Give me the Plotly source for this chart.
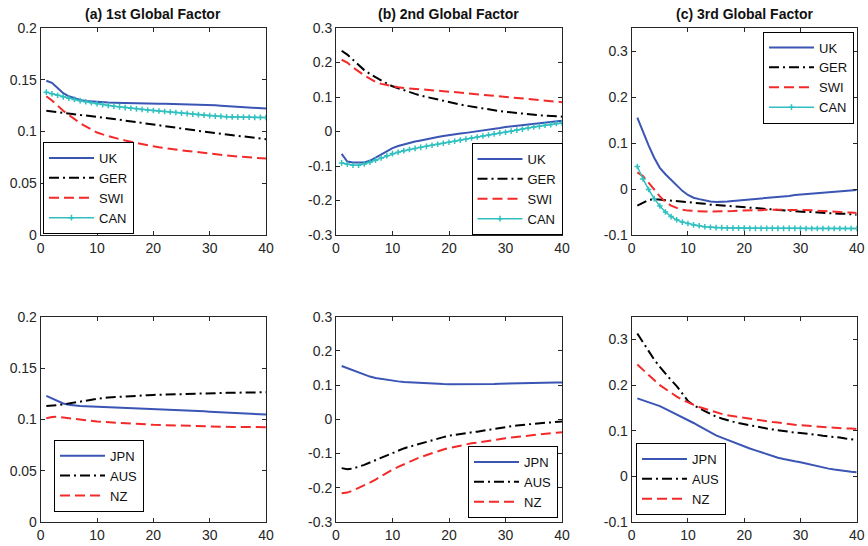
import plotly.graph_objects as go

# ---------------- data ----------------
horizon = list(range(1, 41))

titles = ["(a) 1st Global Factor", "(b) 2nd Global Factor", "(c) 3rd Global Factor"]
top_names = ["UK", "GER", "SWI", "CAN"]
bottom_names = ["JPN", "AUS", "NZ"]

# Panel (a) top
a_uk = [0.149, 0.147, 0.142, 0.137, 0.134, 0.132, 0.1305, 0.1295, 0.129, 0.1285,
        0.128, 0.128, 0.1278, 0.1276, 0.1275, 0.1274, 0.1273, 0.1272, 0.1271, 0.127,
        0.1269, 0.1268, 0.1267, 0.1266, 0.1265, 0.1264, 0.1262, 0.126, 0.1258, 0.1256,
        0.1253, 0.125, 0.1247, 0.1244, 0.1241, 0.1238, 0.1234, 0.123, 0.1226, 0.1222]
a_ger = [0.1200, 0.1194, 0.1188, 0.1182, 0.1176, 0.1170, 0.1164, 0.1158, 0.1152, 0.1145,
         0.1137, 0.1129, 0.1121, 0.1113, 0.1105, 0.1097, 0.1089, 0.1081, 0.1073, 0.1065,
         0.1057, 0.1050, 0.1043, 0.1035, 0.1028, 0.1020, 0.1013, 0.1005, 0.0998, 0.0990,
         0.0984, 0.0978, 0.0971, 0.0965, 0.0958, 0.0952, 0.0945, 0.0939, 0.0932, 0.0926]
a_swi = [0.134, 0.130, 0.125, 0.120, 0.116, 0.112, 0.108, 0.105, 0.102, 0.0990,
         0.0972, 0.0955, 0.0940, 0.0926, 0.0913, 0.0901, 0.0889, 0.0878, 0.0867, 0.0857,
         0.0848, 0.0839, 0.0831, 0.0824, 0.0818, 0.0812, 0.0805, 0.0798, 0.0791, 0.0785,
         0.0779, 0.0773, 0.0768, 0.0763, 0.0758, 0.0754, 0.0750, 0.0746, 0.0742, 0.0738]
a_can = [0.138, 0.1365, 0.135, 0.1335, 0.1322, 0.1310, 0.1298, 0.1288, 0.1278, 0.1268,
         0.1260, 0.1252, 0.1245, 0.1238, 0.1231, 0.1225, 0.1219, 0.1213, 0.1208, 0.1203,
         0.1198, 0.1193, 0.1188, 0.1183, 0.1178, 0.1173, 0.1168, 0.1163, 0.1158, 0.1153,
         0.1149, 0.1146, 0.1143, 0.1141, 0.1139, 0.1138, 0.1137, 0.1136, 0.1136, 0.1135]

# Panel (b) top
b_uk = [-0.065, -0.087, -0.090, -0.090, -0.090, -0.085, -0.076, -0.067, -0.057, -0.048,
        -0.042, -0.037, -0.033, -0.029, -0.026, -0.022, -0.019, -0.016, -0.013, -0.010,
        -0.008, -0.006, -0.004, -0.002, 0.000, 0.002, 0.004, 0.007, 0.010, 0.013,
        0.015, 0.017, 0.019, 0.021, 0.023, 0.025, 0.027, 0.028, 0.030, 0.031]
b_ger = [0.234, 0.223, 0.208, 0.192, 0.178, 0.167, 0.157, 0.147, 0.139, 0.131,
         0.125, 0.119, 0.114, 0.109, 0.104, 0.100, 0.096, 0.092, 0.088, 0.084,
         0.081, 0.078, 0.075, 0.072, 0.069, 0.066, 0.064, 0.061, 0.059, 0.057,
         0.055, 0.053, 0.051, 0.050, 0.048, 0.047, 0.046, 0.045, 0.044, 0.043]
b_swi = [0.208, 0.200, 0.186, 0.174, 0.163, 0.153, 0.144, 0.138, 0.134, 0.131,
         0.128, 0.126, 0.124, 0.123, 0.122, 0.121, 0.119, 0.118, 0.117, 0.1155,
         0.114, 0.1125, 0.111, 0.1095, 0.108, 0.1065, 0.105, 0.1035, 0.102, 0.100,
         0.0985, 0.097, 0.0955, 0.094, 0.0925, 0.091, 0.089, 0.088, 0.086, 0.085]
b_can = [-0.091, -0.095, -0.098, -0.098, -0.094, -0.089, -0.083, -0.077, -0.070, -0.064,
         -0.060, -0.056, -0.052, -0.049, -0.046, -0.043, -0.040, -0.037, -0.034, -0.031,
         -0.028, -0.025, -0.022, -0.019, -0.016, -0.013, -0.010, -0.007, -0.004, -0.002,
         0.001, 0.004, 0.007, 0.010, 0.013, 0.015, 0.018, 0.020, 0.023, 0.025]

# Panel (c) top
c_uk = [0.155, 0.124, 0.095, 0.068, 0.046, 0.032, 0.020, 0.008, -0.004, -0.013,
        -0.019, -0.022, -0.025, -0.027, -0.028, -0.028, -0.027, -0.026, -0.025, -0.024,
        -0.023, -0.022, -0.021, -0.019, -0.018, -0.017, -0.016, -0.015, -0.013, -0.012,
        -0.011, -0.010, -0.009, -0.008, -0.007, -0.006, -0.005, -0.004, -0.003, -0.002]
c_ger = [-0.036, -0.030, -0.024, -0.022, -0.023, -0.024, -0.025, -0.026, -0.027, -0.028,
         -0.029, -0.031, -0.032, -0.034, -0.035, -0.036, -0.037, -0.038, -0.039, -0.040,
         -0.041, -0.042, -0.043, -0.044, -0.044, -0.045, -0.046, -0.047, -0.048, -0.049,
         -0.050, -0.050, -0.051, -0.052, -0.052, -0.053, -0.054, -0.054, -0.055, -0.056]
c_swi = [0.036, 0.028, 0.014, -0.002, -0.016, -0.028, -0.036, -0.041, -0.045, -0.047,
         -0.048, -0.049, -0.049, -0.049, -0.049, -0.049, -0.048, -0.048, -0.047, -0.047,
         -0.046, -0.046, -0.046, -0.045, -0.045, -0.045, -0.045, -0.045, -0.045, -0.045,
         -0.046, -0.046, -0.047, -0.048, -0.048, -0.049, -0.050, -0.051, -0.051, -0.052]
c_can = [0.049, 0.022, -0.001, -0.021, -0.037, -0.050, -0.060, -0.067, -0.072, -0.075,
         -0.078, -0.080, -0.082, -0.083, -0.084, -0.084, -0.085, -0.085, -0.085, -0.085,
         -0.0855, -0.0855, -0.0855, -0.0855, -0.0855, -0.0855, -0.0855, -0.0855, -0.0855, -0.0855,
         -0.086, -0.086, -0.086, -0.086, -0.086, -0.086, -0.086, -0.086, -0.086, -0.086]

# Panel (a) bottom
d_jpn = [0.1228, 0.1205, 0.1175, 0.1155, 0.1142, 0.1134, 0.1130, 0.1127, 0.1125, 0.1123,
         0.1121, 0.1119, 0.1117, 0.1115, 0.1113, 0.1111, 0.1109, 0.1106, 0.1103, 0.1100,
         0.1098, 0.1095, 0.1093, 0.1090, 0.1088, 0.1085, 0.1083, 0.1080, 0.1078, 0.1075,
         0.1072, 0.1069, 0.1066, 0.1063, 0.1060, 0.1058, 0.1055, 0.1052, 0.1050, 0.1047]
d_aus = [0.1131, 0.1133, 0.1138, 0.1146, 0.1155, 0.1165, 0.1175, 0.1185, 0.1194, 0.1202,
         0.1208, 0.1213, 0.1217, 0.1220, 0.1223, 0.1226, 0.1229, 0.1232, 0.1235, 0.1238,
         0.1240, 0.1242, 0.1244, 0.1246, 0.1248, 0.1250, 0.1251, 0.1252, 0.1254, 0.1255,
         0.1256, 0.1257, 0.1258, 0.1259, 0.1260, 0.1261, 0.1262, 0.1263, 0.1263, 0.1264]
d_nz = [0.1010, 0.1022, 0.1025, 0.1018, 0.1008, 0.1000, 0.0994, 0.0988, 0.0983, 0.0979,
        0.0975, 0.0971, 0.0968, 0.0965, 0.0962, 0.0959, 0.0956, 0.0953, 0.0950, 0.0947,
        0.0945, 0.0943, 0.0941, 0.0939, 0.0937, 0.0936, 0.0934, 0.0933, 0.0931, 0.0930,
        0.0929, 0.0928, 0.0927, 0.0926, 0.0926, 0.0925, 0.0925, 0.0924, 0.0924, 0.0924]

# Panel (b) bottom
e_jpn = [0.156, 0.150, 0.143, 0.136, 0.130, 0.125, 0.121, 0.118, 0.115, 0.113,
         0.111, 0.109, 0.108, 0.106, 0.1055, 0.105, 0.104, 0.1035, 0.103, 0.1026,
         0.1025, 0.1024, 0.1024, 0.1025, 0.1026, 0.1028, 0.1030, 0.1035, 0.1040, 0.1046,
         0.1050, 0.1054, 0.1058, 0.1062, 0.1066, 0.1070, 0.1073, 0.1076, 0.1078, 0.1080]
e_aus = [-0.1425, -0.1455, -0.144, -0.139, -0.133, -0.126, -0.119, -0.111, -0.104, -0.097,
         -0.091, -0.085, -0.080, -0.075, -0.070, -0.065, -0.060, -0.056, -0.052, -0.048,
         -0.045, -0.042, -0.040, -0.038, -0.036, -0.033, -0.030, -0.027, -0.024, -0.022,
         -0.020, -0.018, -0.016, -0.015, -0.013, -0.012, -0.010, -0.009, -0.007, -0.006]
e_nz = [-0.216, -0.214, -0.208, -0.201, -0.194, -0.185, -0.176, -0.166, -0.156, -0.147,
        -0.139, -0.131, -0.124, -0.117, -0.110, -0.104, -0.098, -0.093, -0.088, -0.084,
        -0.080, -0.077, -0.073, -0.070, -0.068, -0.065, -0.062, -0.060, -0.057, -0.055,
        -0.053, -0.051, -0.049, -0.047, -0.045, -0.043, -0.042, -0.040, -0.039, -0.0375]

# Panel (c) bottom
f_jpn = [0.171, 0.167, 0.163, 0.158, 0.154, 0.148, 0.142, 0.136, 0.130, 0.124,
         0.117, 0.110, 0.103, 0.096, 0.090, 0.085, 0.080, 0.075, 0.070, 0.066,
         0.061, 0.057, 0.053, 0.048, 0.044, 0.041, 0.038, 0.035, 0.033, 0.031,
         0.028, 0.025, 0.022, 0.019, 0.017, 0.015, 0.013, 0.011, 0.010, 0.009]
f_aus = [0.313, 0.293, 0.274, 0.256, 0.240, 0.225, 0.211, 0.198, 0.182, 0.165,
         0.156, 0.149, 0.143, 0.137, 0.131, 0.127, 0.123, 0.120, 0.117, 0.114,
         0.112, 0.110, 0.107, 0.105, 0.103, 0.101, 0.099, 0.098, 0.096, 0.095,
         0.094, 0.092, 0.091, 0.089, 0.088, 0.086, 0.085, 0.083, 0.082, 0.080]
f_nz = [0.245, 0.233, 0.222, 0.211, 0.200, 0.191, 0.183, 0.175, 0.168, 0.162,
        0.157, 0.152, 0.148, 0.144, 0.140, 0.137, 0.134, 0.132, 0.130, 0.1275,
        0.126, 0.124, 0.122, 0.120, 0.119, 0.118, 0.116, 0.115, 0.113, 0.112,
        0.111, 0.110, 0.109, 0.108, 0.107, 0.106, 0.106, 0.105, 0.105, 0.104]

x_ticks = [0, 10, 20, 30, 40]
x_ticktext = ["0", "10", "20", "30", "40"]
ya_ticks = [0, 0.05, 0.1, 0.15, 0.2]
ya_text = ["0", "0.05", "0.1", "0.15", "0.2"]
yb_ticks = [-0.3, -0.2, -0.1, 0, 0.1, 0.2, 0.3]
yb_text = ["-0.3", "-0.2", "-0.1", "0", "0.1", "0.2", "0.3"]
yc_ticks = [-0.1, 0, 0.1, 0.2, 0.3]
yc_text = ["-0.1", "0", "0.1", "0.2", "0.3"]

# ---------------- styling ----------------
BLUE = "#3a55b4"
RED = "#f42a2a"
CYAN = "#30c0c0"
BLACK = "#000000"
FONT = "Liberation Sans, Arial, sans-serif"
AXCOL = "#262626"

style = {
    "UK": dict(line=dict(color=BLUE, width=2), mode="lines"),
    "JPN": dict(line=dict(color=BLUE, width=2), mode="lines"),
    "GER": dict(line=dict(color=BLACK, width=2, dash="10px,4px,2px,4px"), mode="lines"),
    "AUS": dict(line=dict(color=BLACK, width=2, dash="10px,4px,2px,4px"), mode="lines"),
    "SWI": dict(line=dict(color=RED, width=2, dash="10px,5px"), mode="lines"),
    "NZ": dict(line=dict(color=RED, width=2, dash="10px,5px"), mode="lines"),
    "CAN": dict(line=dict(color=CYAN, width=1.5), mode="lines+markers",
                marker=dict(symbol="cross-thin-open", size=4, color=CYAN,
                            line=dict(color=CYAN, width=1.5))),
}

panels = [
    (1, top_names, [a_uk, a_ger, a_swi, a_can], [0, 0.2], ya_ticks, ya_text, "legend"),
    (2, top_names, [b_uk, b_ger, b_swi, b_can], [-0.3, 0.3], yb_ticks, yb_text, "legend2"),
    (3, top_names, [c_uk, c_ger, c_swi, c_can], [-0.1, 0.35], yc_ticks, yc_text, "legend3"),
    (4, bottom_names, [d_jpn, d_aus, d_nz], [0, 0.2], ya_ticks, ya_text, "legend4"),
    (5, bottom_names, [e_jpn, e_aus, e_nz], [-0.3, 0.3], yb_ticks, yb_text, "legend5"),
    (6, bottom_names, [f_jpn, f_aus, f_nz], [-0.1, 0.35], yc_ticks, yc_text, "legend6"),
]

W, H = 868, 546


def fx(p):
    return p / W


def fy(p):
    return 1 - p / H


col_px = [(40.7, 266.0), (336.0, 562.0), (631.7, 856.7)]
row_px = [(28.0, 235.0), (316.7, 522.0)]

fig = go.Figure()
layout = dict(
    width=W, height=H,
    margin=dict(l=0, r=0, t=0, b=0, autoexpand=False),
    paper_bgcolor="white", plot_bgcolor="white",
    font=dict(family=FONT, size=14, color=AXCOL),
    showlegend=True,
)

legend_pos = {
    "legend": dict(x=fx(43), y=fy(234), xanchor="left", yanchor="bottom"),
    "legend2": dict(x=fx(562.5), y=fy(235), xanchor="right", yanchor="bottom"),
    "legend3": dict(x=fx(854), y=fy(31.5), xanchor="right", yanchor="top"),
    "legend4": dict(x=fx(54), y=fy(511.7), xanchor="left", yanchor="bottom"),
    "legend5": dict(x=fx(558), y=fy(518), xanchor="right", yanchor="bottom"),
    "legend6": dict(x=fx(636), y=fy(515), xanchor="left", yanchor="bottom"),
}

for idx, names, series, yr, yt, ytt, leg in panels:
    r = 0 if idx <= 3 else 1
    c = (idx - 1) % 3
    xs = "" if idx == 1 else str(idx)
    for name, vals in zip(names, series):
        fig.add_trace(go.Scatter(x=horizon, y=vals, name=name, xaxis="x" + xs,
                                 yaxis="y" + xs, legend=leg, **style[name]))
    x0, x1 = col_px[c]
    y0, y1 = row_px[r]
    common = dict(showline=True, linecolor=AXCOL, linewidth=1, mirror="ticks",
                  ticks="inside", ticklen=4, tickcolor=AXCOL, showgrid=False,
                  zeroline=False, automargin=False,
                  tickfont=dict(family=FONT, size=14, color=AXCOL))
    layout["xaxis" + xs] = dict(domain=[fx(x0), fx(x1)], range=[0, 40],
                                tickvals=x_ticks, ticktext=x_ticktext,
                                anchor="y" + xs, **common)
    layout["yaxis" + xs] = dict(domain=[fy(y1), fy(y0)], range=yr,
                                tickvals=yt, ticktext=ytt, anchor="x" + xs, **common)
    layout[leg] = dict(bgcolor="white", bordercolor=BLACK, borderwidth=1,
                       font=dict(family=FONT, size=13, color="#111111"),
                       tracegroupgap=0, itemwidth=45, **legend_pos[leg])

annotations = []
for c, t in enumerate(titles):
    x0, x1 = col_px[c]
    annotations.append(dict(text="<b>" + t + "</b>", x=fx((x0 + x1) / 2), y=fy(14),
                            xref="paper", yref="paper", showarrow=False,
                            xanchor="center", yanchor="middle",
                            font=dict(family=FONT, size=14, color="#111111")))
layout["annotations"] = annotations

fig.update_layout(**layout)
fig.write_html("out.html", config={"displayModeBar": False},
               post_script="document.body.style.margin='0px';")
